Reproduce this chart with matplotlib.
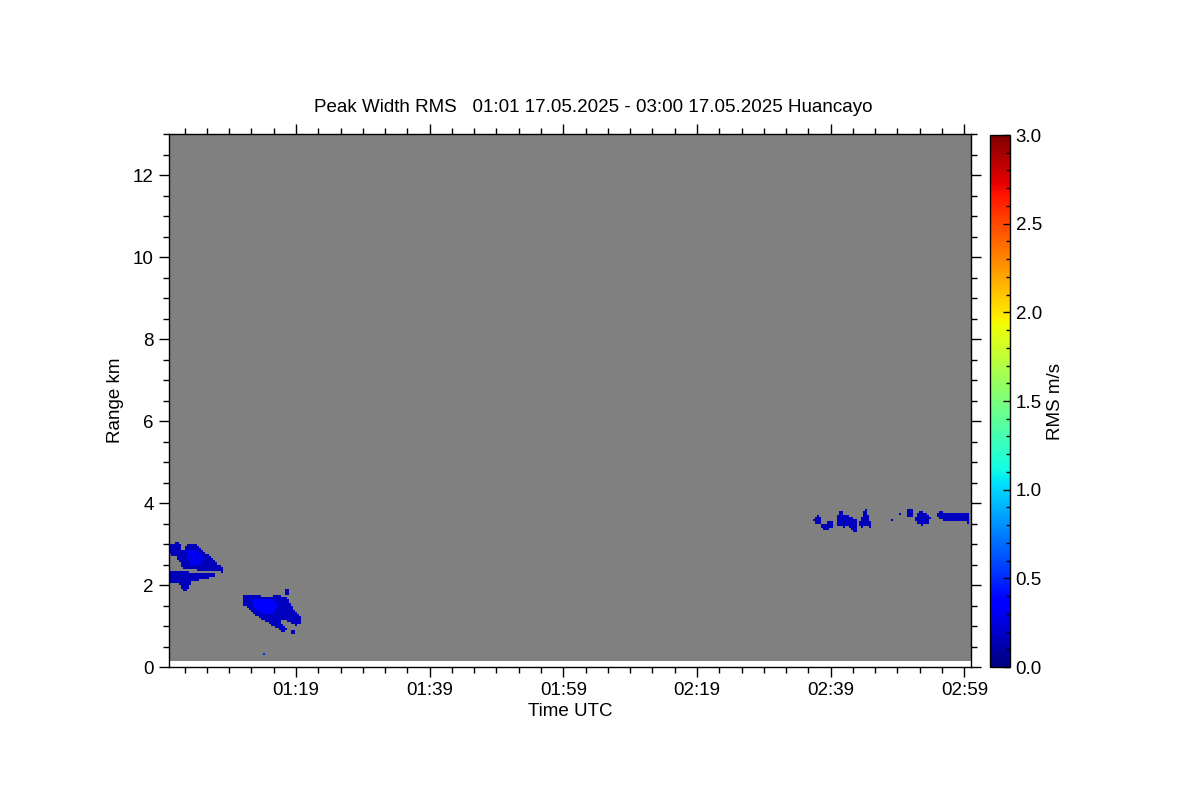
import numpy as np
import matplotlib
matplotlib.use("Agg")
import matplotlib.pyplot as plt
from matplotlib.path import Path
from matplotlib.ticker import MultipleLocator, FuncFormatter

plt.rcParams['font.family'] = ['Liberation Sans', 'DejaVu Sans']
plt.rcParams['font.size'] = 13.5

# time axis in minutes after 00:00 UTC, range in km
T_START, T_END = 60.0, 180.0
R_START, R_END = 0.15, 13.0
DT, DR = 0.3, 0.05

# echo outlines as (minutes, km) vertices and their peak width rms (m/s)
echo_a_upper = [(60.0, 3.02), (60.6, 3.00), (61.3, 3.06), (61.8, 2.95), (61.8, 2.86),
                (62.2, 2.86), (62.6, 2.96), (63.1, 3.01), (64.0, 2.99), (64.7, 2.90),
                (65.5, 2.78), (66.5, 2.64), (67.5, 2.50), (68.2, 2.39), (68.1, 2.32),
                (66.5, 2.35), (64.5, 2.37), (63.0, 2.39), (62.1, 2.43), (61.6, 2.56),
                (61.0, 2.70), (60.0, 2.74)]
echo_a_lower = [(60.0, 2.34), (61.0, 2.36), (62.5, 2.33), (64.0, 2.31), (65.5, 2.29),
                (67.0, 2.28), (67.0, 2.20), (65.5, 2.16), (64.2, 2.12), (63.3, 2.07),
                (63.0, 1.95), (62.6, 1.86), (62.0, 1.87), (61.8, 2.01), (61.0, 2.05),
                (60.0, 2.07)]
echo_a_gap = [(62.8, 2.32), (67.0, 2.31), (67.0, 2.29), (62.8, 2.30)]
echo_a_core = [(62.5, 2.85), (64.0, 2.88), (65.2, 2.68), (64.5, 2.48), (63.0, 2.48)]

echo_b_main = [(71.2, 1.76), (72.8, 1.74), (74.5, 1.71), (75.6, 1.72), (76.1, 1.76),
               (77.0, 1.72), (77.8, 1.66), (78.2, 1.54), (78.7, 1.42), (79.4, 1.28),
               (79.9, 1.17), (79.9, 1.05), (79.0, 1.02), (78.3, 1.08), (77.6, 1.14),
               (76.9, 1.16), (76.8, 1.10), (77.3, 1.00), (77.8, 0.90), (77.0, 0.86),
               (76.0, 0.97), (75.0, 1.06), (74.0, 1.16), (73.0, 1.28), (72.3, 1.40),
               (71.7, 1.47), (71.2, 1.50)]
echo_b_top = [(77.4, 1.76), (77.9, 1.76), (77.9, 1.88), (77.4, 1.88)]
echo_b_tail = [(78.2, 0.82), (78.8, 0.82), (78.8, 0.92), (78.2, 0.92)]
echo_b_core = [(72.4, 1.66), (75.5, 1.66), (76.4, 1.50), (75.5, 1.32), (74.0, 1.30),
               (72.6, 1.45)]

echo_c1 = [(156.3, 3.54), (156.9, 3.70), (157.5, 3.64), (157.4, 3.50)]
echo_c2 = [(157.4, 3.48), (158.2, 3.52), (159.2, 3.57), (159.2, 3.43), (158.5, 3.34),
           (157.8, 3.37)]
echo_c3 = [(159.8, 3.46), (159.8, 3.70), (160.2, 3.72), (160.4, 3.86), (160.9, 3.72),
           (161.5, 3.68), (162.2, 3.64), (162.9, 3.56), (162.9, 3.40), (162.6, 3.25),
           (162.2, 3.34), (161.6, 3.43), (160.8, 3.42)]
echo_c4 = [(163.2, 3.50), (163.8, 3.68), (164.1, 3.90), (164.5, 3.72), (164.9, 3.55),
           (164.9, 3.40), (164.3, 3.48), (163.7, 3.40)]

echo_d2 = [(170.5, 3.64), (171.3, 3.64), (171.3, 3.84), (170.5, 3.84)]
echo_d3 = [(171.5, 3.60), (172.4, 3.81), (173.3, 3.74), (173.9, 3.62), (173.7, 3.50),
           (172.6, 3.47), (171.8, 3.53)]
echo_d4 = [(174.7, 3.66), (175.3, 3.81), (176.2, 3.74), (177.5, 3.76), (178.5, 3.73),
           (179.7, 3.76), (179.7, 3.52), (178.0, 3.54), (176.8, 3.53), (175.6, 3.58)]

echo_shapes = [echo_a_upper, echo_a_lower, echo_a_gap, echo_a_core, echo_b_main,
               echo_b_top, echo_b_tail, echo_b_core, echo_c1, echo_c2, echo_c3,
               echo_c4, echo_d2, echo_d3, echo_d4]
echo_values = [0.16, 0.16, np.nan, 0.3, 0.17, 0.16, 0.16, 0.36, 0.15, 0.15, 0.17,
               0.15, 0.15, 0.17, 0.17]

# single-gate echoes
spot_t = [74.2, 168.1, 169.35]
spot_r = [0.34, 3.57, 3.71]
spot_v = [0.5, 0.15, 0.15]

t_edges = np.arange(T_START, T_END + DT / 2, DT)
r_edges = np.arange(R_START, R_END + DR / 2, DR)
tc = 0.5 * (t_edges[:-1] + t_edges[1:])
rc = 0.5 * (r_edges[:-1] + r_edges[1:])
TT, RR = np.meshgrid(tc, rc)
pts = np.column_stack([TT.ravel(), RR.ravel()])

field = np.full(TT.shape, np.nan)
for shape, val in zip(echo_shapes, echo_values):
    inside = Path(shape).contains_points(pts).reshape(TT.shape)
    field[inside] = val
for t, r, v in zip(spot_t, spot_r, spot_v):
    i = np.searchsorted(r_edges, r) - 1
    j = np.searchsorted(t_edges, t) - 1
    field[i, j] = v
field = np.ma.masked_invalid(field)

cmap = plt.get_cmap('jet').copy()
cmap.set_bad('#808080')

fig = plt.figure(figsize=(12, 8), dpi=100)
ax = fig.add_axes([169 / 1200, 1 - 667 / 800, 802 / 1200, 533 / 800])
cax = fig.add_axes([990 / 1200, 1 - 667 / 800, 20 / 1200, 532 / 800])

mesh = ax.pcolormesh(t_edges, r_edges, field, cmap=cmap, vmin=0, vmax=3, shading='flat')
ax.set_xlim(T_START, T_END)
ax.set_ylim(0, 13)

ax.xaxis.set_major_locator(MultipleLocator(20, offset=19))
ax.xaxis.set_minor_locator(MultipleLocator(20 / 6, offset=19 % (20 / 6)))
ax.xaxis.set_major_formatter(FuncFormatter(lambda m, p: "%02d:%02d" % (int(m) // 60, int(round(m)) % 60)))
ax.yaxis.set_major_locator(MultipleLocator(2))
ax.yaxis.set_minor_locator(MultipleLocator(0.5))
ax.tick_params(which='both', direction='out', top=True, right=True, width=1, colors='black')
ax.tick_params(which='major', length=7, pad=4)
ax.tick_params(which='minor', length=4)
for s in ax.spines.values():
    s.set_linewidth(1)

cb = fig.colorbar(mesh, cax=cax)
cb.set_ticks(np.arange(0, 3.01, 0.5))
cb.ax.yaxis.set_major_formatter(FuncFormatter(lambda v, p: "%.1f" % v))
cb.ax.yaxis.set_minor_locator(MultipleLocator(0.1))
cb.ax.tick_params(which='both', direction='in', right=True, width=1, pad=4)
cb.ax.tick_params(which='major', length=5)
cb.ax.tick_params(which='minor', length=3)
cb.outline.set_linewidth(1)
cb.set_label('RMS m/s', labelpad=4)

fig.text(593 / 1200, 1 - 108 / 800,
         'Peak Width RMS   01:01 17.05.2025 - 03:00 17.05.2025 Huancayo',
         ha='center', va='center')
fig.text(570 / 1200, 1 - 711 / 800, 'Time UTC', ha='center', va='center')
fig.text(115 / 1200, 1 - 400 / 800, 'Range km', ha='center', va='center', rotation=90)

fig.savefig('out.png', dpi=100)
